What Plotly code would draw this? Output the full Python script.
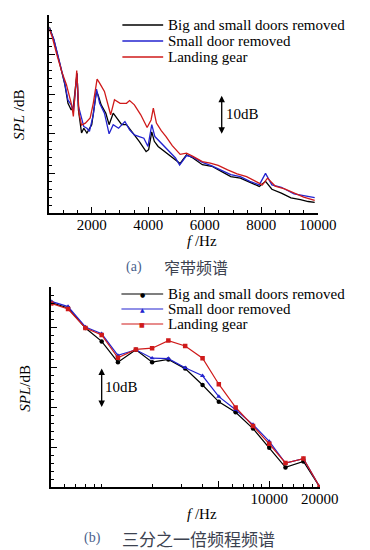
import math
import plotly.graph_objects as go

W, H = 370, 550

# ---------------- (a) narrowband spectrum ----------------
f_blk = [500, 660, 880, 1050, 1160, 1275, 1350, 1440, 1480, 1530, 1640, 1720, 1830, 2000, 2170,
         2225, 2335, 2500, 2615, 2760, 2895, 3060, 3230, 3455, 3680, 3925, 4015, 4125, 4215, 4350,
         4575, 4850, 5130, 5355, 5580, 5915, 6250, 6585, 6920, 7260, 7595, 7930, 8150, 8375, 8710,
         9050, 9385, 9660, 9890]
spl_blk = [47.0, 43.7, 37.4, 32.4, 27.7, 26.0, 26.9, 33.0, 35.3, 26.0, 20.2, 21.4, 20.2, 22.3, 30.7,
           29.8, 27.3, 25.2, 22.3, 25.2, 24.0, 22.3, 22.3, 20.2, 18.1, 15.5, 16.0, 20.5, 18.1, 16.8,
           15.5, 14.0, 12.5, 14.7, 13.9, 12.2, 11.8, 10.5, 9.2, 8.8, 7.7, 6.7, 8.0, 6.0, 5.0,
           3.8, 3.4, 2.9, 2.7]

f_blu = [500, 660, 880, 1050, 1160, 1275, 1350, 1440, 1480, 1530, 1610, 1720, 1830, 1920, 2055,
         2170, 2280, 2450, 2615, 2760, 2950, 3175, 3340, 3510, 3680, 3845, 3990, 4125, 4235, 4405,
         4685, 4965, 5110, 5355, 5580, 5915, 6250, 6585, 6920, 7260, 7595, 7930, 8150, 8375, 8710,
         9160, 9500, 9890]
spl_blu = [46.6, 43.9, 37.6, 32.6, 28.5, 27.3, 25.5, 32.5, 35.0, 27.0, 24.8, 21.8, 21.4, 20.6, 24.8,
           31.3, 27.7, 25.2, 20.0, 22.3, 21.4, 23.1, 21.0, 19.7, 19.3, 18.9, 16.8, 22.3, 19.3, 18.1,
           16.0, 13.9, 12.1, 14.5, 14.1, 12.8, 11.9, 10.9, 9.7, 9.2, 8.0, 7.1, 10.0, 7.1, 6.5,
           4.8, 4.3, 3.9]

f_red = [500, 600, 770, 940, 1105, 1217, 1300, 1350, 1420, 1470, 1550, 1640, 1775, 1945, 2055,
         2190, 2280, 2450, 2670, 2805, 3005, 3230, 3340, 3510, 3735, 3960, 4100, 4180, 4290, 4460,
         4630, 4850, 5130, 5355, 5580, 5915, 6195, 6475, 6810, 7145, 7480, 7815, 8040, 8220, 8490,
         8825, 9160, 9500, 9890]
spl_red = [46.4, 44.5, 39.9, 35.7, 32.4, 29.4, 27.0, 24.4, 30.0, 36.0, 25.2, 22.2, 22.7, 24.0, 27.7,
           33.8, 32.8, 30.7, 24.8, 28.6, 27.7, 27.7, 28.4, 27.3, 24.8, 21.6, 23.5, 26.5, 22.7, 20.8,
           19.3, 17.0, 14.8, 15.1, 14.3, 13.0, 12.6, 12.0, 10.9, 9.9, 9.2, 8.0, 7.1, 8.8, 6.8,
           6.1, 5.0, 4.0, 3.2]

ticks_a = [2000, 4000, 6000, 8000, 10000]
ticklabels_a = ["2000", "4000", "6000", "8000", "10000"]

# ---------------- (b) 1/3 octave spectrum ----------------
f_oct = [500, 630, 800, 1000, 1250, 1600, 2000, 2500, 3150, 4000, 5000, 6300, 8000, 10000,
         12500, 16000, 20000]
oct_blk = [46.1, 44.75, 39.75, 36.4, 31.2, 34.3, 31.2, 31.9, 29.6, 25.5, 21.3, 18.7, 14.6, 9.8,
           4.9, 6.4, 0.0]
oct_blu = [46.4, 45.1, 40.0, 38.3, 32.9, 34.3, 32.2, 32.1, 29.8, 27.8, 22.6, 19.3, 15.6, 11.4,
           6.0, 7.1, 0.0]
oct_red = [45.9, 44.5, 39.75, 38.0, 32.3, 34.4, 34.7, 36.6, 35.25, 32.2, 25.7, 19.9, 15.25, 10.8,
           6.0, 7.1, 0.0]

ticks_b = [5000, 10000, 20000]
ticklabels_b = ["", "10000", "20000"]
minor_b = [600, 700, 800, 900, 1000, 2000, 3000, 4000, 6000, 7000, 8000, 9000,
           12000, 14000, 16000, 18000]

names = ["Big and small doors removed", "Small door removed", "Landing gear"]
colors = ["#000000", "#2323cf", "#cf1a1a"]
symbols = ["circle", "triangle-up", "square"]
glyphs = ["\u25CF", "\u25B2", "\u25A0"]

SERIF = "Liberation Serif, Times New Roman, serif"
CJK = "Noto Sans CJK SC"


def px(x):
    return x / W


def py(y):
    return 1 - y / H


fig = go.Figure()

for fx, sy, nm, c in zip([f_blk, f_blu, f_red], [spl_blk, spl_blu, spl_red], names, colors):
    fig.add_trace(go.Scatter(x=fx, y=sy, mode="lines", name=nm, showlegend=False,
                             line=dict(color=c, width=1.3), xaxis="x", yaxis="y"))

for sy, nm, c, s in zip([oct_blk, oct_blu, oct_red], names, colors, symbols):
    fig.add_trace(go.Scatter(x=f_oct, y=sy, mode="lines+markers", name=nm, showlegend=False,
                             line=dict(color=c, width=1.2),
                             marker=dict(symbol=s, size=4.5, color=c),
                             xaxis="x2", yaxis="y2"))

axis_common = dict(showline=True, linecolor="black", linewidth=1.5, mirror=False,
                   ticks="inside", tickcolor="black", tickwidth=1.2, ticklen=6,
                   showgrid=False, zeroline=False,
                   tickfont=dict(family=SERIF, size=15, color="black"))

fig.update_layout(
    width=W, height=H,
    margin=dict(l=0, r=0, t=0, b=0),
    paper_bgcolor="white", plot_bgcolor="white",
    xaxis=dict(domain=[px(52), px(335)], range=[500, 10000], anchor="y",
               tickmode="array", tickvals=ticks_a, ticktext=ticklabels_a,
               ticklabelstandoff=-3,
               minor=dict(ticks="inside", ticklen=3, tickcolor="black", tickwidth=1,
                          dtick=500, tick0=0),
               **axis_common),
    yaxis=dict(domain=[py(213), py(15)], range=[0, 50], anchor="x",
               dtick=10, tick0=0, showticklabels=False,
               minor=dict(ticks="inside", ticklen=3, tickcolor="black", tickwidth=1,
                          dtick=2, tick0=0),
               **axis_common),
    xaxis2=dict(domain=[px(54), px(337)], type="log",
                range=[math.log10(500), math.log10(20000)], anchor="y2",
                tickmode="array", tickvals=ticks_b, ticktext=ticklabels_b,
                ticklabelstandoff=-3,
                minor=dict(ticks="inside", ticklen=3, tickcolor="black", tickwidth=1,
                           tickmode="array", tickvals=minor_b),
                **axis_common),
    yaxis2=dict(domain=[py(487), py(287)], range=[0, 50], anchor="x2",
                dtick=10, tick0=0, showticklabels=False,
                minor=dict(ticks="inside", ticklen=3, tickcolor="black", tickwidth=1,
                           dtick=2, tick0=0),
                **axis_common),
)

ann = []
shapes = []

# Legends (drawn as layout decorations)
for i, (nm, c) in enumerate(zip(names, colors)):
    ya = 25 + 16 * i
    shapes.append(dict(type="line", xref="paper", yref="paper", x0=px(129), x1=px(172),
                       y0=py(ya), y1=py(ya), line=dict(color=c, width=1.3)))
    ann.append(dict(xref="paper", yref="paper", x=px(175), y=py(ya), xanchor="left",
                    yanchor="middle", text=nm, showarrow=False,
                    font=dict(family=SERIF, size=15, color="black")))
    yb = 294 + 15 * i
    shapes.append(dict(type="line", xref="paper", yref="paper", x0=px(128), x1=px(172),
                       y0=py(yb), y1=py(yb), line=dict(color=c, width=1.2)))
    ann.append(dict(xref="paper", yref="paper", x=px(150), y=py(yb), xanchor="center",
                    yanchor="middle", text=glyphs[i], showarrow=False,
                    font=dict(family="DejaVu Sans", size=6, color=c)))
    ann.append(dict(xref="paper", yref="paper", x=px(175), y=py(yb), xanchor="left",
                    yanchor="middle", text=nm, showarrow=False,
                    font=dict(family=SERIF, size=15, color="black")))

# 10 dB scale arrows
ann.append(dict(xref="x", yref="y", axref="x", ayref="y", x=6600, y=20, ax=6600, ay=30,
                text="", showarrow=True, arrowhead=2, arrowside="end+start",
                arrowsize=1, arrowwidth=1.3, arrowcolor="black"))
ann.append(dict(xref="x", yref="y", x=6600, y=25, xanchor="left", yanchor="middle",
                xshift=2, text="10dB", showarrow=False,
                font=dict(family=SERIF, size=15, color="black")))
ann.append(dict(xref="x2", yref="y2", axref="x2", ayref="y2", x=3.0, y=20, ax=3.0, ay=30,
                text="", showarrow=True, arrowhead=2, arrowside="end+start",
                arrowsize=1, arrowwidth=1.3, arrowcolor="black"))
ann.append(dict(xref="x2", yref="y2", x=3.0, y=25, xanchor="left", yanchor="middle",
                xshift=1, text="10dB", showarrow=False,
                font=dict(family=SERIF, size=15, color="black")))

# Axis titles
ann.append(dict(xref="paper", yref="paper", x=px(20), y=py(115), textangle=-90,
                text="<i>SPL</i> /dB", showarrow=False, xanchor="center", yanchor="middle",
                font=dict(family=SERIF, size=15, color="black")))
ann.append(dict(xref="paper", yref="paper", x=px(26), y=py(388), textangle=-90,
                text="<i>SPL</i>/dB", showarrow=False, xanchor="center", yanchor="middle",
                font=dict(family=SERIF, size=15, color="black")))
ann.append(dict(xref="paper", yref="paper", x=px(213), y=py(241),
                text="<i>f</i> /Hz", showarrow=False, xanchor="center", yanchor="middle",
                font=dict(family=SERIF, size=15, color="black")))
ann.append(dict(xref="paper", yref="paper", x=px(213), y=py(514),
                text="<i>f</i> /Hz", showarrow=False, xanchor="center", yanchor="middle",
                font=dict(family=SERIF, size=15, color="black")))

# Captions
ann.append(dict(xref="paper", yref="paper", x=px(131), y=py(267), xanchor="left",
                yanchor="middle", text="(a)", showarrow=False,
                font=dict(family=SERIF, size=14, color="#4a5f8c")))
ann.append(dict(xref="paper", yref="paper", x=px(171), y=py(267), xanchor="left",
                yanchor="middle", text="窄带频谱", showarrow=False,
                font=dict(family=CJK, size=16, color="#3c4250")))
ann.append(dict(xref="paper", yref="paper", x=px(86), y=py(538), xanchor="left",
                yanchor="middle", text="(b)", showarrow=False,
                font=dict(family=SERIF, size=14, color="#4a5f8c")))
ann.append(dict(xref="paper", yref="paper", x=px(127), y=py(538), xanchor="left",
                yanchor="middle", text="三分之一倍频程频谱", showarrow=False,
                font=dict(family=CJK, size=17, color="#3c4250")))

fig.update_layout(annotations=ann, shapes=shapes)

fig.write_html("out.html", config={"displayModeBar": False},
               post_script="document.body.style.margin='0';document.body.style.overflow='hidden';")
